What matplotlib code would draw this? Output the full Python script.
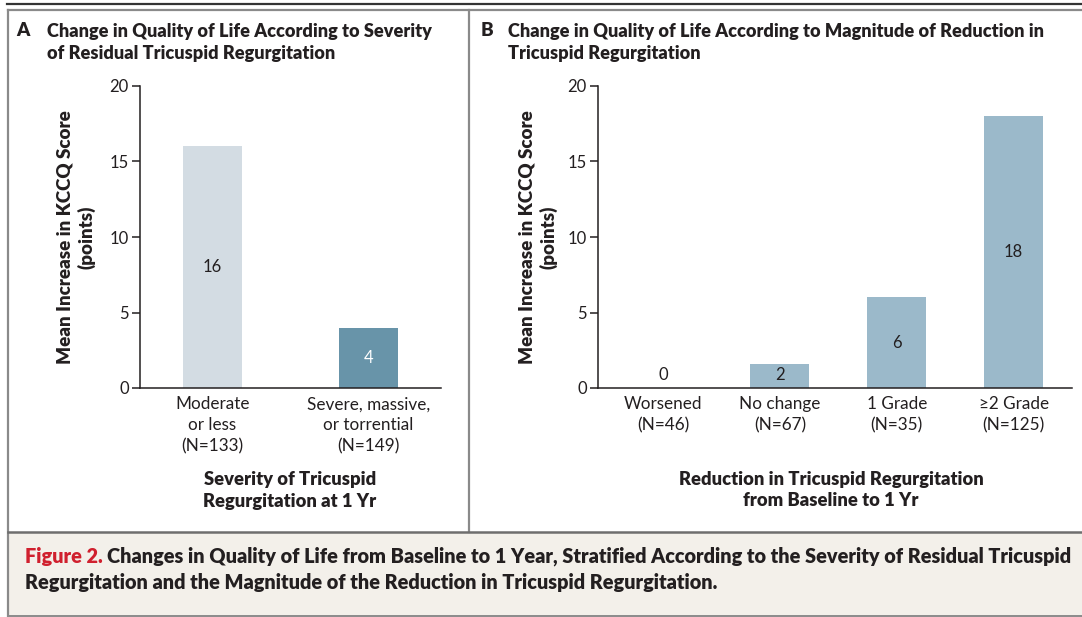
import matplotlib
matplotlib.use("Agg")
import matplotlib.pyplot as plt
from matplotlib.lines import Line2D
from matplotlib.patches import Rectangle

plt.rcParams['font.family'] = ['Lato', 'DejaVu Sans']

W, H = 1082, 617

# data
sev_labels = ["Moderate\nor less\n(N=133)", "Severe, massive,\nor torrential\n(N=149)"]
sev_values = [16, 4]
sev_text = ["16", "4"]
sev_colors = ["#d3dce3", "#6894a9"]

red_labels = ["Worsened\n(N=46)", "No change\n(N=67)", "1 Grade\n(N=35)", "\u22652 Grade\n(N=125)"]
red_values = [0, 1.6, 6, 18]
red_text = ["0", "2", "6", "18"]
red_color = "#9bb9ca"

yticks = [0, 5, 10, 15, 20]
txt_col = "#231f20"
frame_col = "#8a8a8a"
BW = "heavy"


def fx(px):
    return px / W


def fy(py):
    return 1 - py / H


fig = plt.figure(figsize=(W / 100, H / 100), dpi=100)

# caption background and frame lines
fig.patches.append(Rectangle((fx(8), fy(615)), fx(1082 - 8), (615 - 532) / H,
                             transform=fig.transFigure, facecolor="#f3f0ea", edgecolor="none", zorder=0))
for xs, ys, c, lw in [
    ([7, 1082], [4, 4], "#333333", 1.6),
    ([8, 1082], [9.5, 9.5], frame_col, 1.6),
    ([8, 8], [9.5, 616], frame_col, 1.6),
    ([469, 469], [9.5, 532], frame_col, 1.6),
    ([8, 1082], [532, 532], "#6e6e6e", 1.8),
    ([8, 1082], [615.5, 615.5], frame_col, 1.4),
]:
    fig.add_artist(Line2D([fx(x) for x in xs], [fy(y) for y in ys], transform=fig.transFigure,
                          color=c, lw=lw))


def setup_axis(ax):
    ax.set_ylim(0, 20)
    ax.set_yticks(yticks)
    ax.set_yticklabels([str(t) for t in yticks], fontsize=12, color=txt_col)
    for s in ["top", "right"]:
        ax.spines[s].set_visible(False)
    for s in ["left", "bottom"]:
        ax.spines[s].set_linewidth(1.1)
        ax.spines[s].set_color(txt_col)
    ax.tick_params(axis="y", direction="out", length=6, width=1.1, color=txt_col, pad=2)
    ax.tick_params(axis="x", length=0, pad=6, labelsize=12.3, labelcolor=txt_col)
    ax.patch.set_alpha(0)


# Panel A
axA = fig.add_axes([fx(140), fy(388), fx(441 - 140), (388 - 86) / H])
xa = list(range(len(sev_values)))
axA.bar(xa, sev_values, width=0.378, color=sev_colors)
axA.set_xlim(-0.465, 1.465)
setup_axis(axA)
axA.set_xticks(xa)
axA.set_xticklabels(sev_labels, linespacing=1.38)
for x, v, t, c in zip(xa, sev_values, sev_text, ["#231f20", "white"]):
    axA.text(x, max(v / 2, 0.85), t, ha="center", va="center", fontsize=12, color=c)

# Panel B
axB = fig.add_axes([fx(598), fy(388), fx(1072 - 598), (388 - 86) / H])
xb = list(range(len(red_values)))
axB.bar(xb, red_values, width=0.505, color=red_color)
axB.set_xlim(-0.556, 3.5)
setup_axis(axB)
axB.set_xticks(xb)
axB.set_xticklabels(red_labels, linespacing=1.38)
for x, v, t in zip(xb, red_values, red_text):
    axB.text(x, max(v / 2, 0.85), t, ha="center", va="center", fontsize=12, color=txt_col)

# y labels
for xc in [76, 538]:
    fig.text(fx(xc), fy(237), "Mean Increase in KCCQ Score\n(points)", fontsize=13.5, fontweight=BW,
             color=txt_col, rotation=90, ha="center", va="center", linespacing=1.25)

# panel titles
fig.text(fx(16), fy(31), "A", fontsize=13.5, fontweight=BW, color=txt_col, va="center")
fig.text(fx(47), fy(31), "Change in Quality of Life According to Severity",
         fontsize=13.1, fontweight=BW, color=txt_col, va="center")
fig.text(fx(47), fy(54), "of Residual Tricuspid Regurgitation",
         fontsize=13.1, fontweight=BW, color=txt_col, va="center")
fig.text(fx(481), fy(31), "B", fontsize=13.5, fontweight=BW, color=txt_col, va="center")
fig.text(fx(508), fy(31), "Change in Quality of Life According to Magnitude of Reduction in",
         fontsize=13.1, fontweight=BW, color=txt_col, va="center")
fig.text(fx(508), fy(54), "Tricuspid Regurgitation",
         fontsize=13.1, fontweight=BW, color=txt_col, va="center")

# axis titles
fig.text(fx(290), fy(479), "Severity of Tricuspid", fontsize=13.2, fontweight=BW,
         color=txt_col, ha="center", va="center")
fig.text(fx(290), fy(501), "Regurgitation at 1 Yr", fontsize=13.2, fontweight=BW,
         color=txt_col, ha="center", va="center")
fig.text(fx(831), fy(479), "Reduction in Tricuspid Regurgitation", fontsize=13.2,
         fontweight=BW, color=txt_col, ha="center", va="center")
fig.text(fx(831), fy(501), "from Baseline to 1 Yr", fontsize=13.2,
         fontweight=BW, color=txt_col, ha="center", va="center")

# caption
t1 = fig.text(fx(25), fy(556), "Figure 2.", fontsize=14.3, fontweight=BW, color="#d0202e", va="center")
fig.canvas.draw()
bb = t1.get_window_extent()
fig.text(bb.x1 / W + fx(4), fy(556),
         "Changes in Quality of Life from Baseline to 1 Year, Stratified According to the Severity of Residual Tricuspid",
         fontsize=14.3, fontweight=BW, color=txt_col, va="center")
fig.text(fx(25), fy(583), "Regurgitation and the Magnitude of the Reduction in Tricuspid Regurgitation.",
         fontsize=14.3, fontweight=BW, color=txt_col, va="center")

fig.savefig("out.png", dpi=100)
